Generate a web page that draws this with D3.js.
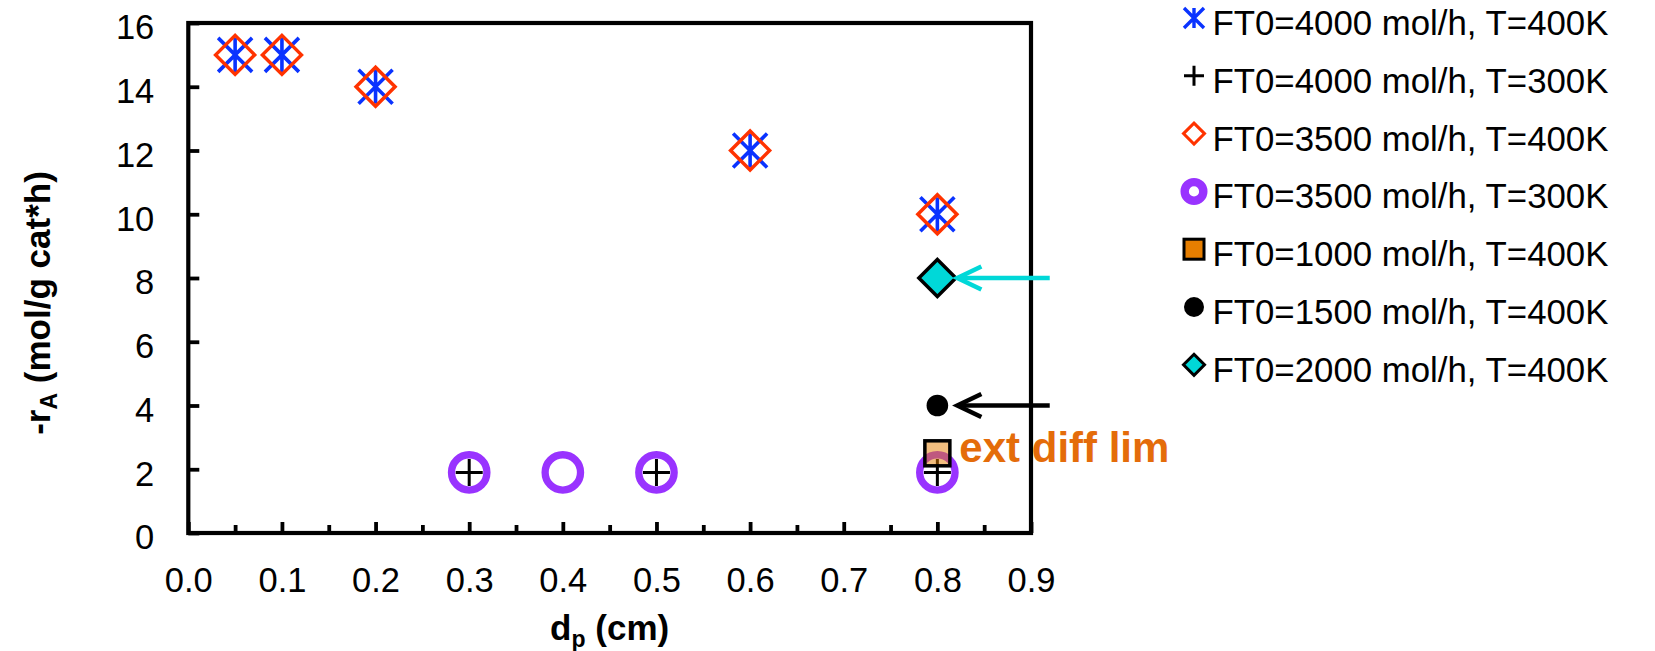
<!DOCTYPE html>
<html>
<head>
<meta charset="utf-8">
<script src="https://cdn.jsdelivr.net/npm/d3@7"></script>
<style>
  html, body { margin: 0; padding: 0; background: #ffffff; }
  svg { display: block; font-family: "Liberation Sans", Arial, sans-serif; }
</style>
</head>
<body>
<svg id="chart" width="1655" height="651"></svg>
<script>
// ---- data ----
const seriesLabels = [
  "FT0=4000 mol/h, T=400K",
  "FT0=4000 mol/h, T=300K",
  "FT0=3500 mol/h, T=400K",
  "FT0=3500 mol/h, T=300K",
  "FT0=1000 mol/h, T=400K",
  "FT0=1500 mol/h, T=400K",
  "FT0=2000 mol/h, T=400K"
];
const dp_4000_400 = [0.05, 0.1, 0.2, 0.6, 0.8];
const rate_4000_400 = [15, 15, 14, 12, 10];
const dp_4000_300 = [0.3, 0.5, 0.8];
const rate_4000_300 = [1.9, 1.9, 1.9];
const dp_3500_400 = [0.05, 0.1, 0.2, 0.6, 0.8];
const rate_3500_400 = [15, 15, 14, 12, 10];
const dp_3500_300 = [0.3, 0.4, 0.5, 0.8];
const rate_3500_300 = [1.9, 1.9, 1.9, 1.9];
const dp_1000_400 = [0.8];
const rate_1000_400 = [2.5];
const dp_1500_400 = [0.8];
const rate_1500_400 = [4];
const dp_2000_400 = [0.8];
const rate_2000_400 = [8];

const xTickValues = [0.0, 0.1, 0.2, 0.3, 0.4, 0.5, 0.6, 0.7, 0.8, 0.9];
const xMinorTickValues = [0.05, 0.15, 0.25, 0.35, 0.45, 0.55, 0.65, 0.75, 0.85];
const yTickValues = [0, 2, 4, 6, 8, 10, 12, 14, 16];
const annotationText = "ext diff lim";

// ---- layout & style ----
const svg = d3.select("#chart");
const plot = { left: 188.3, right: 1031, top: 23, bottom: 533 };
const FONT = 34.5;

const x = d3.scaleLinear().domain([0, 0.9]).range([plot.left, plot.right]);
const y = d3.scaleLinear().domain([0, 16]).range([plot.bottom, plot.top]);

const BLUE = "#0a33ff", RED = "#ff3300", PURPLE = "#9933ff",
      ORANGE = "#e67e00", CYAN = "#00d8d8", TEXT_ORANGE = "#e46c0a";

const series = [
  { label: seriesLabels[0], xs: dp_4000_400, ys: rate_4000_400, type: "asterisk" },
  { label: seriesLabels[1], xs: dp_4000_300, ys: rate_4000_300, type: "plus" },
  { label: seriesLabels[2], xs: dp_3500_400, ys: rate_3500_400, type: "diamond" },
  { label: seriesLabels[3], xs: dp_3500_300, ys: rate_3500_300, type: "ring" },
  { label: seriesLabels[4], xs: dp_1000_400, ys: rate_1000_400, type: "square" },
  { label: seriesLabels[5], xs: dp_1500_400, ys: rate_1500_400, type: "dot" },
  { label: seriesLabels[6], xs: dp_2000_400, ys: rate_2000_400, type: "cdiamond" }
];

const plotSizes = {
  asterisk: { h: 17, w: 3.6 },
  plus: { h: 13.5, w: 3 },
  diamond: { h: 19.5, w: 3.5 },
  ring: { r: 17.7, w: 7.3 },
  square: { h: 12.5, w: 3.5, alpha: 0.5 },
  dot: { r: 10.8 },
  cdiamond: { h: 18.5, w: 3.5 }
};
const legendSizes = {
  asterisk: { h: 10, w: 3.4 },
  plus: { h: 10, w: 3 },
  diamond: { h: 10.5, w: 3 },
  ring: { r: 9.3, w: 8.4 },
  square: { h: 10, w: 3, alpha: 1 },
  dot: { r: 10 },
  cdiamond: { h: 10.5, w: 3 }
};

function drawMarker(g, type, s) {
  if (type === "asterisk") {
    const h = s.h;
    g.append("path")
      .attr("d", `M0,${-h}V${h}M${-h},${-h}L${h},${h}M${-h},${h}L${h},${-h}`)
      .attr("stroke", BLUE).attr("stroke-width", s.w).attr("fill", "none");
  } else if (type === "plus") {
    const h = s.h;
    g.append("path")
      .attr("d", `M${-h},0H${h}M0,${-h}V${h}`)
      .attr("stroke", "#000").attr("stroke-width", s.w).attr("fill", "none");
  } else if (type === "diamond" || type === "cdiamond") {
    const h = s.h;
    g.append("path")
      .attr("d", `M0,${-h}L${h},0L0,${h}L${-h},0Z`)
      .attr("fill", type === "cdiamond" ? CYAN : "none")
      .attr("stroke", type === "cdiamond" ? "#000" : RED)
      .attr("stroke-width", s.w).attr("stroke-linejoin", "miter");
  } else if (type === "ring") {
    g.append("circle").attr("r", s.r)
      .attr("fill", "none").attr("stroke", PURPLE).attr("stroke-width", s.w);
  } else if (type === "square") {
    g.append("rect").attr("x", -s.h).attr("y", -s.h)
      .attr("width", 2 * s.h).attr("height", 2 * s.h)
      .attr("fill", ORANGE).attr("fill-opacity", s.alpha)
      .attr("stroke", "#000").attr("stroke-width", s.w);
  } else if (type === "dot") {
    g.append("circle").attr("r", s.r).attr("fill", "#000");
  }
}

// ---- axes ----
const xAxis = d3.axisBottom(x)
  .tickValues(xTickValues)
  .tickSize(-11)
  .tickPadding(35)
  .tickFormat(d3.format(".1f"));
const gx = svg.append("g").attr("transform", `translate(0,${plot.bottom})`).call(xAxis);

const xMinor = d3.axisBottom(x).tickValues(xMinorTickValues).tickSize(-8).tickFormat("");
const gxm = svg.append("g").attr("transform", `translate(0,${plot.bottom})`).call(xMinor);

const yAxis = d3.axisLeft(y)
  .tickValues(yTickValues)
  .tickSize(-11)
  .tickPadding(34)
  .tickFormat(d3.format("d"));
const gy = svg.append("g").attr("transform", `translate(${plot.left},0)`).call(yAxis);

[gx, gxm, gy].forEach(g => {
  g.select(".domain").remove();
  g.selectAll(".tick line").attr("stroke", "#000").attr("stroke-width", 3.8);
  g.selectAll(".tick text")
    .attr("fill", "#000")
    .style("font-family", "'Liberation Sans', Arial, sans-serif")
    .style("font-size", FONT + "px");
});
gy.selectAll(".tick text").attr("dy", "0.46em");

// plot frame
svg.append("rect")
  .attr("x", plot.left).attr("y", plot.top)
  .attr("width", plot.right - plot.left).attr("height", plot.bottom - plot.top)
  .attr("fill", "none").attr("stroke", "#000").attr("stroke-width", 4.2);

// ---- axis titles ----
const yTitle = svg.append("text")
  .attr("transform", "translate(50,303) rotate(-90)")
  .attr("text-anchor", "middle")
  .style("font-size", "35px").style("font-weight", "bold").attr("fill", "#000");
yTitle.append("tspan").text("-r");
yTitle.append("tspan").text("A").style("font-size", "23px").attr("dy", 7);
yTitle.append("tspan").text(" (mol/g cat*h)").attr("dy", -7);

const xTitle = svg.append("text")
  .attr("x", (plot.left + plot.right) / 2).attr("y", 640)
  .attr("text-anchor", "middle")
  .style("font-size", "35px").style("font-weight", "bold").attr("fill", "#000");
xTitle.append("tspan").text("d");
xTitle.append("tspan").text("p").style("font-size", "23px").attr("dy", 7);
xTitle.append("tspan").text(" (cm)").attr("dy", -7);

// ---- data points ----
const marks = svg.append("g");
series.forEach(sr => {
  const pts = sr.xs.map((d, i) => ({ x: d, y: sr.ys[i] }));
  marks.append("g").selectAll("g").data(pts).join("g")
    .attr("transform", d => `translate(${x(d.x)},${y(d.y)})`)
    .each(function () { drawMarker(d3.select(this), sr.type, plotSizes[sr.type]); });
});

// ---- arrows pointing at the 2000 and 1500 mol/h points ----
function arrow(x0, x1, yy, color) {
  const g = svg.append("g").attr("stroke", color).attr("stroke-width", 4.6)
    .attr("fill", "none").attr("stroke-linecap", "butt");
  g.append("path").attr("d", `M${x0},${yy}H${x1 + 2}`);
  g.append("path").attr("d", `M${x1 + 24},${yy - 11.5}L${x1},${yy}L${x1 + 24},${yy + 11.5}`)
    .attr("stroke-linejoin", "miter");
}
arrow(x(0.92), x(dp_2000_400[0]) + 20, y(rate_2000_400[0]), CYAN);
arrow(x(0.92), x(dp_1500_400[0]) + 20, y(rate_1500_400[0]), "#000");

// annotation next to the 1000 mol/h point
svg.append("text")
  .attr("x", x(dp_1000_400[0]) + 22)
  .attr("y", y(rate_1000_400[0]) + 9)
  .style("font-size", "42px").style("font-weight", "bold")
  .attr("fill", TEXT_ORANGE)
  .text(annotationText);

// ---- legend ----
const legend = svg.append("g");
series.forEach((sr, i) => {
  const base = 35 + i * 57.8;
  const mg = legend.append("g").attr("transform", `translate(1194,${base - 17})`);
  drawMarker(mg, sr.type, legendSizes[sr.type]);
  legend.append("text")
    .attr("x", 1212.5).attr("y", base)
    .style("font-size", "34.8px").attr("fill", "#000")
    .text(sr.label);
});
</script>
</body>
</html>
